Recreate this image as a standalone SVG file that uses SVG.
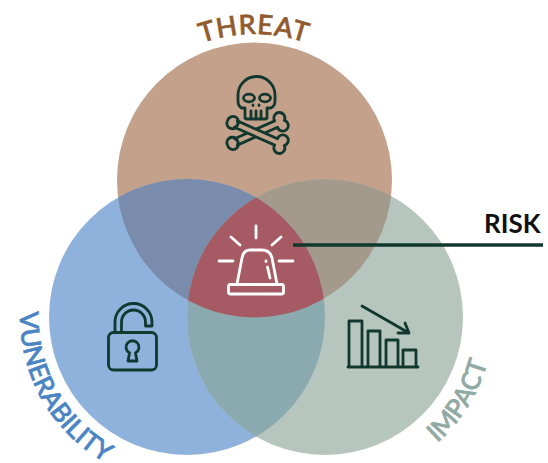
<svg xmlns="http://www.w3.org/2000/svg" width="548" height="463" viewBox="0 0 548 463">
<style>
.lab{font-family:Lato,"Open Sans","Liberation Sans",sans-serif;font-weight:500;font-size:27px;stroke-width:.7px}
.ic{fill:none;stroke:#10382f;stroke-width:2.800;stroke-linejoin:round;stroke-linecap:round}
.al{fill:none;stroke:#fff;stroke-width:2.800;stroke-linejoin:round;stroke-linecap:round}
</style>
<defs>
<clipPath id="cT"><circle cx="254.500" cy="180" r="137.500"/></clipPath>
<clipPath id="cL"><circle cx="187" cy="317" r="138"/></clipPath>
<path id="pT" d="M184,50 Q254,18 324,50"/>
<path id="pV" d="M20,312 A167,167 0 0 0 130,474"/>
<path id="pI" d="M419,457 A168,168 0 0 0 492,340"/>
<path id="bone" d="M-22,-3.500 A5.500,5.500 0 1 1 -31,0 A5.500,5.500 0 1 1 -22,3.500 L22,3.500 A5.500,5.500 0 1 0 31,0 A5.500,5.500 0 1 0 22,-3.500 Z"/>
</defs>
<rect width="548" height="463" fill="#fff"/>
<g id="venn">
<g id="threat-circle"><circle cx="254.500" cy="180" r="137.500" fill="#c4a18b"/></g>
<g id="vulnerability-circle"><circle cx="187" cy="317" r="138" fill="#8fb2dc"/></g>
<g id="impact-circle"><circle cx="325" cy="317" r="138" fill="#b6c6bf"/></g>
<g clip-path="url(#cT)"><circle cx="187" cy="317" r="138" fill="#7a8cab"/></g>
<g clip-path="url(#cT)"><circle cx="325" cy="317" r="138" fill="#a39a8b"/></g>
<g clip-path="url(#cL)"><circle cx="325" cy="317" r="138" fill="#8aaab0"/></g>
<g id="risk-region" clip-path="url(#cT)"><g clip-path="url(#cL)"><circle cx="325" cy="317" r="138" fill="#a65a63"/></g></g>
</g>
<g id="threat">
<text class="lab" fill="#915b2e" stroke="#915b2e" letter-spacing="0.800"><textPath href="#pT" startOffset="50%" text-anchor="middle">THREAT</textPath></text>
<g id="skull" class="ic">
<path d="M245,118 V108 H241.500 Q238,106 238,101 V95 A18.500,18.500 0 0 1 275,95 V101 Q275,106 271,108 H267 V118 Q267,119 265,119 H247 Q245,119 245,118 Z"/>
<ellipse cx="249" cy="98" rx="5.500" ry="3.800"/><ellipse cx="265" cy="98" rx="5.500" ry="3.800"/>
<path d="M253,105 V105.500 M259,105 V105.500 M251,111 V118 M256,111 V118 M261,111 V118"/>
<use href="#bone" transform="translate(256,133) rotate(-24)" fill="#c4a18b"/>
<use href="#bone" transform="translate(256,133) rotate(24)" fill="#c4a18b"/>
</g>
</g>
<g id="vulnerability">
<text class="lab" fill="#4a84c4" stroke="#4a84c4" font-size="26" style="font-size:26px" letter-spacing="-0.100"><textPath href="#pV">VUNERABILITY</textPath></text>
<g id="lock" class="ic">
<rect x="108.500" y="332.500" width="48" height="37.500" rx="5"/>
<path d="M115,332 V322 A18.500,18.500 0 0 1 152,322 V326 H145.500 V322 A12,12 0 0 0 121.500,322 V332"/>
<path d="M129.500,353 A6.500,6.500 0 1 1 135.500,353 L137,361 H128 Z"/>
</g>
</g>
<g id="impact">
<text class="lab" fill="#8fa9a3" stroke="#8fa9a3" style="font-size:26px"><textPath href="#pI" startOffset="50%" text-anchor="middle">IMPACT</textPath></text>
<g id="chart" class="ic">
<path d="M349,367 V321 H362 V367 M368,367 V331 H380 V367 M386,367 V340 H398 V367 M403,367 V350 H416 V367 M348,367 H418"/>
<path d="M362,306 L409,333 M398,333 L409,333 L405,323"/>
</g>
</g>
<g id="risk">
<g id="alarm" class="al">
<rect x="228.500" y="284.500" width="55" height="9.500" rx="2"/>
<path d="M237,284 L242,258 Q243.500,250 250,250 H262 Q270,250 272,258 L277,284"/>
<path d="M256,226 V238 M231,237 L240,245 M281,237 L272,245 M219,261 H233 M279,261 H293 M266,261 V261.500 M267.500,267 L270,278"/>
</g>
<text x="484" y="233" font-family="Lato,'Open Sans','Liberation Sans',sans-serif" font-weight="700" font-size="26" fill="#111">RISK</text>
</g>
<g id="connectors">
<path d="M293,245 H543" stroke="#10382f" stroke-width="3.500" fill="none"/>
</g>
</svg>
